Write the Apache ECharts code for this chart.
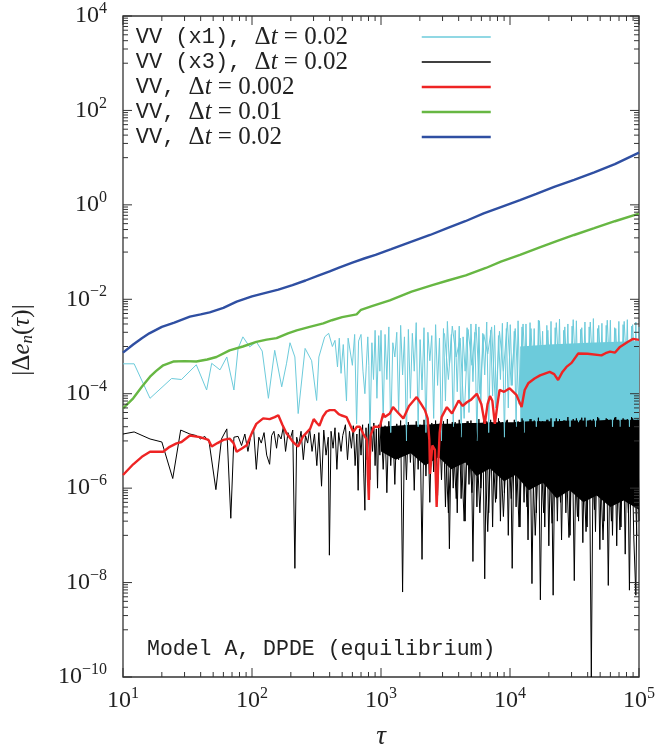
<!DOCTYPE html>
<html><head><meta charset="utf-8">
<script src="https://cdn.jsdelivr.net/npm/echarts@6/dist/echarts.min.js"></script>
<style>html,body{margin:0;padding:0;background:#fff}#c{width:656px;height:750px}</style>
</head><body><div id="c"></div>
<script>
// ---------------- DATA ----------------
const seriesNames = ['VV (x1), Δt = 0.02', 'VV (x3), Δt = 0.02', 'VV, Δt = 0.002', 'VV, Δt = 0.01', 'VV, Δt = 0.02'];
const xTickValues = [10, 100, 1000, 10000, 100000];
const xTickExps = ['1', '2', '3', '4', '5'];
const yTickValues = [1e4, 1e2, 1, 1e-2, 1e-4, 1e-6, 1e-8, 1e-10];
const yTickExps = ['4', '2', '0', '−2', '−4', '−6', '−8', '−10'];

const blueData = [[10,7.4e-4],[12,1.1e-3],[14,1.5e-3],[16,1.9e-3],[20,2.6e-3],[25,3.2e-3],[33,4.3e-3],[40,4.8e-3],[47,5.3e-3],[60,6.6e-3],[76,8.9e-3],[100,1.15e-2],[123,1.33e-2],[160,1.6e-2],[206,2.0e-2],[260,2.5e-2],[330,3.2e-2],[400,3.9e-2],[473,4.7e-2],[600,6.0e-2],[750,7.4e-2],[907,8.7e-2],[1200,0.115],[1726,0.166],[2400,0.23],[3300,0.327],[4500,0.45],[6250,0.66],[8500,0.9],[11950,1.26],[16000,1.7],[22000,2.4],[31400,3.4],[45000,4.9],[65000,7.3],[100000,12.8]];

const greenData = [[10,4.9e-5],[12,8e-5],[14,1.4e-4],[16.2,2.3e-4],[18,3.0e-4],[20.5,4.0e-4],[24.5,4.8e-4],[30,4.9e-4],[37,4.8e-4],[45,5.3e-4],[53,6.0e-4],[67,8.3e-4],[85,1.0e-3],[108,1.25e-3],[130,1.4e-3],[155,1.5e-3],[190,1.9e-3],[222,2.2e-3],[280,2.6e-3],[357,3.1e-3],[416,3.6e-3],[500,4.2e-3],[647,4.8e-3],[700,6.0e-3],[850,7.2e-3],[1170,9.5e-3],[1726,1.45e-2],[2500,2.0e-2],[3300,2.5e-2],[4540,3.2e-2],[6500,4.6e-2],[8500,6.3e-2],[11950,8.7e-2],[17000,0.125],[23000,0.17],[31400,0.23],[45000,0.32],[65000,0.45],[100000,0.65]];

const redData = [[10,1.9e-6],[12,3.2e-6],[14,4.6e-6],[16.2,5.9e-6],[20.5,5.9e-6],[23,7.5e-6],[26,8.9e-6],[28.4,9.5e-6],[33,1.3e-5],[39.5,1.2e-5],[46,1.05e-5],[48.7,7.6e-6],[54,9e-6],[60,1.05e-5],[67,1.12e-5],[72,9e-6],[76,5.9e-6],[84,7e-6],[91,8.1e-6],[100,1.5e-5],[108,2.3e-5],[122,3.0e-5],[137,2.9e-5],[150,3.2e-5],[160,3.5e-5],[172,2.2e-5],[185,1.45e-5],[200,1.1e-5],[208,9.5e-6],[228,7.6e-6],[248,1.23e-5],[265,1.5e-5],[282,1.8e-5],[301,2.9e-5],[318,2.4e-5],[333,2.1e-5],[355,3.3e-5],[378,4.2e-5],[400,4.5e-5],[437,4.5e-5],[470,3.7e-5],[490,3.5e-5],[540,3.2e-5],[575,2.2e-5],[610,1.55e-5],[650,2.0e-5],[685,2.0e-5],[730,1.4e-5],[778,1.05e-5],[790,2e-6],[805,5.6e-7],[815,3e-6],[830,1.3e-5],[880,2.0e-5],[930,2.0e-5],[980,2.0e-5],[1040,3.8e-5],[1070,3.2e-5],[1170,3.8e-5],[1240,5.2e-5],[1350,4.0e-5],[1490,3.0e-5],[1650,5.5e-5],[1890,8.5e-5],[2050,6e-5],[2190,4.5e-5],[2300,3e-5],[2370,1.05e-5],[2400,2.0e-6],[2500,8e-6],[2620,6.5e-6],[2700,4e-7],[2780,3.4e-6],[2850,1.5e-5],[2950,3.2e-5],[3240,5.2e-5],[3550,3.8e-5],[4000,7.2e-5],[4300,5.5e-5],[4630,6.6e-5],[5000,7.5e-5],[5530,1.0e-4],[6000,6e-5],[6380,2.3e-5],[6700,6e-5],[7000,8.9e-5],[7300,7e-5],[7630,2.3e-5],[8000,6e-5],[8300,1.2e-4],[9000,1.1e-4],[9940,1.3e-4],[11200,9.5e-5],[12300,5.2e-5],[13000,1.2e-4],[13850,1.66e-4],[15500,2.1e-4],[17100,2.45e-4],[20300,2.9e-4],[22000,2.6e-4],[23600,1.95e-4],[25500,2.9e-4],[27400,3.7e-4],[30000,4.5e-4],[33800,7.1e-4],[40000,7.0e-4],[51200,6.5e-4],[55000,7.2e-4],[59700,7.8e-4],[65000,7.4e-4],[71200,9.8e-4],[82200,1.26e-3],[90000,1.45e-3],[100000,1.38e-3]];

const cyanSparse = [[10,4.3e-4],[12.2,4.3e-4],[16.2,8e-5],[23.8,2.1e-4],[28.4,2.0e-4],[37,4.1e-4],[44.5,1.2e-4],[48.7,4.4e-4],[56.5,3.2e-4],[63.8,6.0e-4],[72.4,1.2e-4],[78,9.1e-4],[85,1.6e-3],[96,9.8e-4],[108,1.26e-3],[120,8e-4],[134,8e-5],[150,8.3e-4],[170,1.4e-4],[185,4.3e-4],[197,1.2e-3],[215,6e-4],[228,3.8e-5],[258,9.1e-4],[290,5e-4],[317,7.2e-5],[330,6e-4],[366,1.6e-3],[393,1.9e-3],[420,1.0e-3],[440,1.35e-3],[460,3.7e-4],[475,1.5e-3],[490,2.7e-4],[510,1.1e-3],[540,7e-5],[556,1.5e-3],[600,4e-4],[625,1.8e-3],[647,2.3e-5],[670,1.3e-3],[700,1.8e-3],[725,3e-4],[750,1e-4],[790,1.6e-3],[805,4e-4],[820,1.0e-5],[850,1.2e-3],[875,2e-4],[900,2.2e-3],[930,8e-5],[960,1.7e-3],[980,3e-4]];

const blackSparse = [[10,1.4e-5],[12.2,1.55e-5],[16.2,1.1e-5],[20,9.5e-6],[24.3,1.6e-6],[28,1.7e-5],[33,1.4e-5],[37,1.3e-5],[40,1.1e-5],[43,1.25e-5],[46.5,9.5e-6],[52.5,9.3e-7],[58,1.1e-5],[63.8,1.8e-5],[68.5,2.3e-7],[72.4,1.2e-5],[78,1.25e-5],[83,8e-6],[88,1.4e-5],[93,6e-6],[98,1.3e-5],[103,1.7e-5],[108,2.5e-6],[113,1.2e-5],[118,9e-6],[124,1.5e-5],[130,5e-6],[137,3.2e-6],[142,1.3e-5],[148,1.6e-5],[155,7e-6],[160,1.4e-5],[168,1.1e-5],[175,2.0e-5],[182,6e-6],[190,1.5e-5],[198,1.1e-5],[207,1.7e-5],[215,2e-8],[222,1.2e-5],[230,8e-6],[240,1.6e-5],[250,4e-6],[260,1.3e-5],[270,9e-6],[280,1.8e-5],[292,6e-6],[305,1.4e-5],[318,3e-6],[330,1.5e-5],[346,1.1e-6],[360,1.7e-5],[375,5e-6],[390,1.2e-5],[398,3.8e-8],[410,1.6e-5],[425,7e-6],[440,1.9e-5],[455,2.5e-6],[470,1.5e-5],[490,6e-6],[505,1.3e-5],[530,2.2e-5],[550,4e-6],[570,1.6e-5],[590,7e-6],[610,2.1e-5],[630,3e-6],[650,1.4e-5],[665,9e-7],[680,1.8e-5],[700,5e-6],[720,2.2e-5],[735,2e-6],[750,3.4e-7],[765,1.9e-5],[780,4e-6],[800,2.3e-5],[820,1.5e-6],[840,2.0e-5],[860,6e-6],[880,2.4e-5],[900,3e-6],[920,1.8e-5],[940,1e-6],[960,2.2e-5],[980,5e-6]];

const tauDense = [1000,1040,1075,1110,1150,1190,1235,1280,1325,1370,
1420,1470,1520,1575,1630,1690,1750,1810,1875,1940,
2010,2080,2155,2230,2310,2390,2475,2560,2650,2745,
2840,2945,3050,3160,3270,3390,3510,3630,3760,3900,
4040,4180,4330,4490,4650,4810,4980,5160,5350,5540,
5740,5940,6150,6370,6600,6840,7080,7330,7590,7860,
8140,8430,8730,9050,9370,9700,10050,10400,10800,11150,
11550,11950,12400,12850,13300,13800,
14300,14800,15400,16000,16600,17200,17900,18600,19300,20000,
20800,21600,22400,23300,24200,25100,26100,27100,28100,29200,
30300,31500,32700,34000,35300,36700,38100,39600,41100,42700,
44300,46000,47800,49700,51600,53600,55700,57800,60000,62300,
64700,67200,69800,72500,75300,78200,81200,84300,87600,91000,
94500,98000,100000];

const cyanDense = [2.2e-3,3e-5,1.8e-3,2e-4,2.6e-3,1.5e-5,1.2e-3,6e-4,2.0e-3,4e-5,
2.8e-3,2.5e-4,1.6e-3,1e-5,2.3e-3,8e-5,1.9e-3,3e-4,3.2e-3,2e-5,
1.4e-3,1.2e-4,2.5e-3,1.5e-5,2.0e-3,5e-4,1.7e-3,3e-5,2.9e-3,1.5e-4,
1.5e-3,1e-5,2.4e-3,7e-5,3.4e-3,4e-4,1.8e-3,2e-5,2.2e-3,1.1e-4,
2.7e-3,1.2e-5,1.6e-3,3e-4,2.5e-3,4e-5,3.0e-3,1.8e-4,2.0e-3,1e-5,
2.6e-3,6e-5,1.9e-3,2.5e-4,3.3e-3,1.5e-5,2.2e-3,9e-5,2.8e-3,3e-5,
1.7e-3,2e-4,3.1e-3,1.2e-5,2.4e-3,5e-5,2.9e-3,1.5e-4,2.1e-3,2e-5,
3.5e-3,8e-5,2.6e-3,1.5e-5,3.0e-3,4e-5,
3.2e-3,6e-5,2.4e-3,2e-5,3.6e-3,1e-4,2.1e-3,3e-5,2.8e-3,5e-5,
3.4e-3,2e-5,2.5e-3,8e-5,3.8e-3,3e-5,2.2e-3,1.5e-4,3.0e-3,2e-5,
2.7e-3,6e-5,3.5e-3,2.5e-5,2.3e-3,1e-4,3.3e-3,3e-5,2.6e-3,5e-5,
3.9e-3,2e-5,2.4e-3,7e-5,3.1e-3,3e-5,2.8e-3,1.2e-4,3.6e-3,2e-5,
2.5e-3,6e-5,3.4e-3,3e-5,2.9e-3,9e-5,3.7e-3,2e-5,2.7e-3,5e-5,
3.3e-3,3e-5,2.6e-3];

const blackDense = [2.4e-5,2.5e-6,2.1e-5,8e-7,2.6e-5,3e-6,1.9e-5,1.2e-6,2.3e-5,4e-6,
2.7e-5,6.3e-9,2.2e-5,1.5e-6,2.5e-5,3.5e-6,2.0e-5,9e-7,2.6e-5,2.5e-6,
2.2e-5,3.1e-8,2.8e-5,1.8e-6,2.1e-5,5e-7,2.4e-5,2.2e-6,2.7e-5,7e-7,
2.3e-5,1.5e-6,2.6e-5,4e-7,2.9e-5,5.2e-8,2.2e-5,1e-6,2.5e-5,3e-7,
2.8e-5,6e-7,2.3e-5,2e-7,2.6e-5,1.2e-6,2.7e-5,2.8e-8,2.4e-5,4e-7,
2.9e-5,1e-6,2.2e-5,1.2e-8,2.6e-5,3e-7,2.8e-5,1.5e-7,2.4e-5,6e-7,
3.0e-5,2e-7,2.5e-5,8e-7,2.7e-5,1e-7,2.3e-5,2e-8,2.8e-5,4e-7,
2.6e-5,1.5e-7,3.0e-5,5e-7,2.5e-5,8e-8,
2.9e-5,9.5e-9,2.7e-5,3e-7,3.1e-5,4.3e-9,2.6e-5,1.5e-7,2.8e-5,6e-8,
3.0e-5,5.4e-9,2.5e-5,2e-7,2.9e-5,8e-8,2.7e-5,3e-7,3.2e-5,1e-7,
2.6e-5,1.1e-8,3.0e-5,2e-7,2.8e-5,7e-8,3.1e-5,1.5e-7,2.7e-5,1e-10,
2.9e-5,1.2e-7,3.2e-5,5e-8,2.6e-5,2e-7,3.0e-5,8.7e-9,2.8e-5,1e-7,
3.1e-5,6e-8,2.7e-5,1.5e-7,3.0e-5,4e-8,2.9e-5,6.9e-9,3.2e-5,1e-7,
5.4e-9,2.8e-5,2e-7];

// second, interleaved set of samples in the densest part
const tauMid = [3105,3330,3570,3830,4110,4410,4730,5070,5445,5840,
6260,6720,7205,7725,8285,8890,9535,10225,10975,11750,
12625,13550,14550,15700,16900,18250,19650,21200,22850,24650,
26600,28650,30900,33350,36000,38850,41900,45150,48750,52600,
56750,61150,66000,71150,76750,82750,89300,96250];
const cyanMid = [1.9e-3,2e-4,2.7e-3,6e-4,1.5e-3,3e-5,2.3e-3,4e-4,3.0e-3,1e-4,
1.8e-3,7e-4,2.6e-3,5e-5,2.1e-3,3e-4,3.3e-3,1.5e-4,2.4e-3,6e-5,
3.0e-3,5e-5,2.4e-3,3e-5,3.5e-3,6e-5,2.2e-3,2e-5,3.2e-3,8e-5,
2.6e-3,3e-5,3.7e-3,4e-5,2.5e-3,2e-5,3.3e-3,6e-5,2.8e-3,3e-5,
3.6e-3,5e-5,2.4e-3,2e-5,3.4e-3,7e-5,2.9e-3,3e-5];
const blackMid = [2.2e-5,3e-7,2.5e-5,6e-7,2.3e-5,2e-7,2.6e-5,8e-7,2.4e-5,3e-7,
2.7e-5,1.2e-7,2.5e-5,5e-7,2.6e-5,2.5e-7,2.8e-5,6e-7,2.5e-5,1.5e-7,
2.7e-5,4e-7,2.9e-5,1e-7,2.6e-5,3e-7,2.8e-5,1.8e-7,3.0e-5,5e-7,
2.7e-5,9e-8,2.9e-5,2.5e-7,3.1e-5,1.2e-7,2.8e-5,3.5e-7,3.0e-5,8e-8,
2.9e-5,2e-7,3.2e-5,1.3e-7,2.8e-5,3e-7,3.0e-5,1e-7];

// saturated (solid) parts of the two noisy curves: envelope
const cyanBandTau = [12000, 20000, 40000, 100000];
const cyanBandHi = [1.0e-3, 1.1e-3, 1.2e-3, 1.3e-3];
const cyanBandLo = [2.5e-5, 2.5e-5, 2.5e-5, 2.5e-5];
const blackBandTau = [1000,1300,1700,2200,2800,3500,4500,5500,7000,9000,11000,14000,18000,23000,29000,37000,47000,60000,76000,100000];
const blackBandHi = [2.0e-5,2.1e-5,2.2e-5,2.2e-5,2.3e-5,2.3e-5,2.4e-5,2.4e-5,2.5e-5,2.5e-5,2.5e-5,2.6e-5,2.6e-5,2.6e-5,2.7e-5,2.7e-5,2.7e-5,2.8e-5,2.8e-5,2.8e-5];
const blackBandLo = [6e-6,4e-6,5.5e-6,3e-6,4.5e-6,2.5e-6,3.5e-6,1.8e-6,2.6e-6,1.4e-6,1.9e-6,9e-7,1.3e-6,6e-7,9e-7,5e-7,7e-7,4e-7,5.5e-7,3.5e-7];

// ---------------- BUILD ----------------
const X_MIN = 10, X_MAX = 1e5, Y_MIN = 1e-10, Y_MAX = 1e4;
const zip = (t, v) => t.map((x, i) => [x, v[i]]).filter(p => p[1] != null);
const cyanData = cyanSparse.concat(zip(tauDense, cyanDense));
const blackData = blackSparse.concat(zip(tauDense, blackDense));

const xMinor = [], yMinor = [];
for (let k = 1; k < 5; k++) for (let m = 2; m <= 9; m++) xMinor.push(m * Math.pow(10, k));
for (let k = -9; k <= 3; k += 2) for (let m = 1; m <= 9; m++) yMinor.push(m * Math.pow(10, k));

const SERIF = 'Liberation Serif', MONO = 'Liberation Mono';
const TXT = '#222';
const col = { cyan: '#6ccbdb', black: '#000000', red: '#ee2424', green: '#67b743', blue: '#2f4fa2' };
const legendLineW = [1.3, 1.3, 2.5, 2.5, 2.5];

function bandSeries(tau, hi, lo, color) {
  return {
    type: 'custom', silent: true, clip: true, data: [[tau[0], hi[0]]],
    renderItem: (p, api) => {
      const pts = [];
      for (let i = 0; i < tau.length; i++) pts.push(api.coord([tau[i], hi[i]]));
      for (let i = tau.length - 1; i >= 0; i--) pts.push(api.coord([tau[i], lo[i]]));
      return { type: 'polygon', shape: { points: pts }, style: { fill: color } };
    }
  };
}
function lineSeries(name, data, color, width) {
  return { name, type: 'line', data, symbol: 'none', showSymbol: false, clip: true,
    lineStyle: { color, width }, itemStyle: { color }, emphasis: { disabled: true } };
}

const MAJ = 9, MIN = 5, TICK = '#333';
function renderAxes(params, api) {
  const ch = [];
  const bl = api.coord([X_MIN, Y_MIN]), tr = api.coord([X_MAX, Y_MAX]);
  const ln = (a, b, c, d) => ch.push({ type: 'line', shape: { x1: a, y1: b, x2: c, y2: d }, style: { stroke: TICK, lineWidth: 1 } });
  const xt = (v, L) => { const x = api.coord([v, Y_MIN])[0]; ln(x, bl[1], x, bl[1] - L); ln(x, tr[1], x, tr[1] + L); };
  const yt = (v, L) => { const y = api.coord([X_MIN, v])[1]; ln(bl[0], y, bl[0] + L, y); ln(tr[0], y, tr[0] - L, y); };
  xTickValues.forEach(v => xt(v, MAJ)); xMinor.forEach(v => xt(v, MIN));
  yTickValues.forEach(v => yt(v, MAJ)); yMinor.forEach(v => yt(v, MIN));
  const rich = {
    b: { fontFamily: SERIF, fontSize: 24, fill: TXT, lineHeight: 30 },
    s: { fontFamily: SERIF, fontSize: 16, fill: TXT, lineHeight: 14, verticalAlign: 'top' }
  };
  xTickValues.forEach((v, i) => {
    const x = api.coord([v, Y_MIN])[0];
    ch.push({ type: 'text', x: x, y: bl[1] + 24, style: { text: '{b|10}{s|' + xTickExps[i] + '}', rich, align: 'center', verticalAlign: 'middle' } });
  });
  yTickValues.forEach((v, i) => {
    const y = api.coord([X_MIN, v])[1];
    ch.push({ type: 'text', x: bl[0] - 16, y: y, style: { text: '{b|10}{s|' + yTickExps[i] + '}', rich, align: 'right', verticalAlign: 'middle' } });
  });
  return { type: 'group', children: ch };
}

// legend text: mono part + math part, padded to one common width so the samples line up
const LEG_TEXT_W = 281;
const mctx = document.createElement('canvas').getContext('2d');
const tw = (t, f) => { mctx.font = f; return mctx.measureText(t).width; };
const legendText = {};
const legendRich = {
  m: { fontFamily: MONO, fontSize: 22, color: TXT, lineHeight: 25 },
  d: { fontFamily: SERIF, fontSize: 25, color: TXT, lineHeight: 25 },
  i: { fontFamily: SERIF, fontStyle: 'italic', fontSize: 25, color: TXT, lineHeight: 25 },
  r: { fontFamily: SERIF, fontSize: 25, color: TXT, lineHeight: 25 }
};
seriesNames.forEach((n, k) => {
  const parts = n.split('Δ');
  const mono = parts[0], rest = parts[1].slice(1);
  const w = tw(mono, '22px "' + MONO + '"') + tw('Δ', '25px "' + SERIF + '"') + tw('t', 'italic 25px "' + SERIF + '"') + tw(rest, '25px "' + SERIF + '"');
  legendRich['p' + k] = { width: Math.max(1, LEG_TEXT_W - w), fontSize: 12, lineHeight: 25 };
  legendText[n] = '{m|' + mono + '}{d|Δ}{i|t}{r|' + rest + '}{p' + k + '| }';
});

const chart = echarts.init(document.getElementById('c'), null, { renderer: 'canvas' });
chart.setOption({
  animation: false,
  backgroundColor: '#fff',
  grid: { left: 123, right: 17, top: 16, bottom: 73, show: true, borderColor: '#333', borderWidth: 1.3, backgroundColor: 'transparent' },
  xAxis: { type: 'log', logBase: 10, min: X_MIN, max: X_MAX, axisLine: { show: false }, axisTick: { show: false }, axisLabel: { show: false }, splitLine: { show: false } },
  yAxis: { type: 'log', logBase: 10, min: Y_MIN, max: Y_MAX, axisLine: { show: false }, axisTick: { show: false }, axisLabel: { show: false }, splitLine: { show: false } },
  legend: {
    orient: 'vertical', right: 656 - 492, top: 24.5, padding: 0, align: 'right', itemWidth: 69, itemHeight: 4, itemGap: 0,
    selectedMode: false,
    itemStyle: { opacity: 0 },
    data: seriesNames.map((n, k) => ({ name: n, lineStyle: { width: legendLineW[k] } })),
    formatter: n => legendText[n],
    textStyle: { rich: legendRich }
  },
  graphic: [
    { type: 'text', x: 22, y: 340, rotation: Math.PI / 2, style: {
      text: '{n||Δ}{i|e}{s|n}{n|(}{i|τ}{n|)|}', align: 'center', verticalAlign: 'middle',
      rich: {
        n: { fontFamily: SERIF, fontSize: 25, fill: TXT, lineHeight: 28 },
        i: { fontFamily: SERIF, fontStyle: 'italic', fontSize: 25, fill: TXT, lineHeight: 28 },
        s: { fontFamily: SERIF, fontStyle: 'italic', fontSize: 17, fill: TXT, lineHeight: 14, verticalAlign: 'bottom' }
      } } },
    { type: 'text', x: 381, y: 737, style: { text: 'τ', fontFamily: SERIF, fontStyle: 'italic', fontSize: 27, fill: TXT, align: 'center', verticalAlign: 'middle' } },
    { type: 'text', x: 147, y: 649, style: { text: 'Model A, DPDE (equilibrium)', fontFamily: MONO, fontSize: 21.5, fill: TXT, align: 'left', verticalAlign: 'middle' } }
  ],
  series: [
    bandSeries(cyanBandTau, cyanBandHi, cyanBandLo, col.cyan),
    lineSeries(seriesNames[0], cyanData, col.cyan, 1),
    lineSeries(seriesNames[0], zip(tauMid, cyanMid), col.cyan, 1),
    bandSeries(blackBandTau, blackBandHi, blackBandLo, col.black),
    lineSeries(seriesNames[1], blackData, col.black, 1),
    lineSeries(seriesNames[1], zip(tauMid, blackMid), col.black, 1),
    lineSeries(seriesNames[2], redData, col.red, 2.4),
    lineSeries(seriesNames[3], greenData, col.green, 2.4),
    lineSeries(seriesNames[4], blueData, col.blue, 2.4),
    { type: 'custom', silent: true, clip: false, z: 10, data: [[10, 1]], renderItem: renderAxes }
  ]
});
</script></body></html>
